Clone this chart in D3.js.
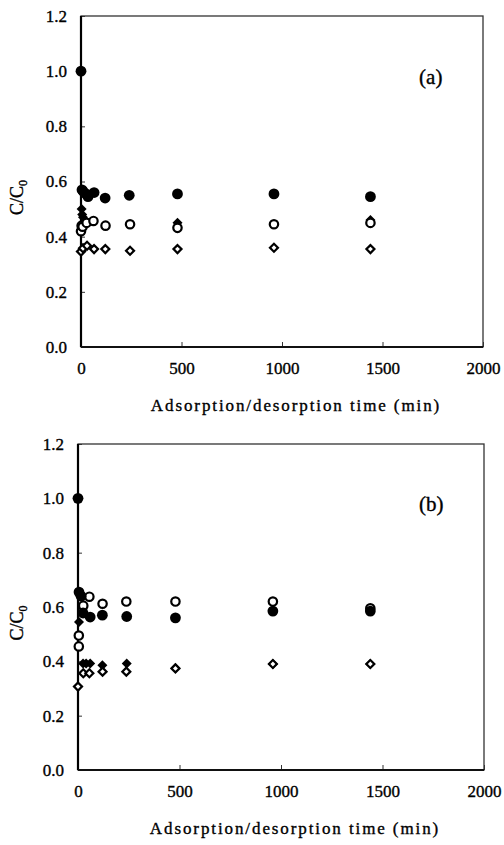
<!DOCTYPE html>
<html>
<head>
<meta charset="utf-8">
<script src="https://cdn.jsdelivr.net/npm/d3@7"></script>
<style>
  body { margin: 0; background: #fff; }
  svg text { font-family: "Liberation Serif", "Times New Roman", Times, serif; fill: #000; stroke: #000; stroke-width: 0.35px; }
</style>
</head>
<body>
<svg id="chart" width="504" height="845"></svg>
<script>
// x ticks / y ticks shared by both panels
const xTicks = [0, 500, 1000, 1500, 2000]
const yTicks = [0, 0.2, 0.4, 0.6, 0.8, 1.0, 1.2]

// panel (a)
const aFilledCircleT = [0, 5, 10, 25, 35, 65, 120, 240, 480, 960, 1440]
const aFilledCircleV = [1.0, 0.57, 0.565, 0.555, 0.545, 0.56, 0.54, 0.55, 0.555, 0.555, 0.545]
const aFilledDiamondT = [3, 6, 10, 480, 1440]
const aFilledDiamondV = [0.50, 0.48, 0.47, 0.45, 0.46]
const aOpenCircleT = [0, 3, 8, 28, 62, 122, 244, 480, 960, 1440]
const aOpenCircleV = [0.42, 0.44, 0.436, 0.45, 0.457, 0.44, 0.445, 0.432, 0.445, 0.45]
const aOpenDiamondT = [0, 10, 30, 65, 121, 244, 480, 960, 1440]
const aOpenDiamondV = [0.346, 0.358, 0.367, 0.355, 0.355, 0.349, 0.355, 0.36, 0.355]

// panel (b)
const bFilledCircleT = [0, 5, 15, 25, 60, 120, 240, 480, 960, 1440]
const bFilledCircleV = [1.0, 0.655, 0.64, 0.578, 0.563, 0.57, 0.565, 0.56, 0.585, 0.585]
const bFilledDiamondT = [5, 25, 40, 60, 120, 240, 480, 960, 1440]
const bFilledDiamondV = [0.545, 0.392, 0.392, 0.392, 0.386, 0.392, 0.375, 0.39, 0.39]
const bOpenCircleT = [4, 4, 26, 56, 121, 238, 480, 960, 1440]
const bOpenCircleV = [0.495, 0.455, 0.605, 0.638, 0.612, 0.62, 0.62, 0.62, 0.595]
const bOpenDiamondT = [0, 26, 56, 121, 238, 480, 960, 1440]
const bOpenDiamondV = [0.307, 0.356, 0.356, 0.362, 0.362, 0.374, 0.39, 0.39]

const zip = (t, v) => t.map((d, i) => ({t: d, v: v[i]}))

const panels = [
    {label: '(a)', left: 81, right: 483, top: 16, bottom: 347,
     fd: zip(aFilledDiamondT, aFilledDiamondV), oc: zip(aOpenCircleT, aOpenCircleV),
     od: zip(aOpenDiamondT, aOpenDiamondV), fc: zip(aFilledCircleT, aFilledCircleV)},
    {label: '(b)', left: 78, right: 484, top: 444, bottom: 770,
     fd: zip(bFilledDiamondT, bFilledDiamondV), oc: zip(bOpenCircleT, bOpenCircleV),
     od: zip(bOpenDiamondT, bOpenDiamondV), fc: zip(bFilledCircleT, bFilledCircleV)}
]

const serif = '"Liberation Serif", "Times New Roman", Times, serif'
const svg = d3.select('#chart')
const diamond = d3.symbol(d3.symbolSquare, 50)()

panels.forEach((p) => {
    const x = d3.scaleLinear().domain([0, 2000]).range([p.left, p.right])
    const y = d3.scaleLinear().domain([0, 1.2]).range([p.bottom, p.top])
    const g = svg.append('g').attr('font-family', serif)

    g.append('rect')
        .attr('x', p.left).attr('y', p.top)
        .attr('width', p.right - p.left).attr('height', p.bottom - p.top)
        .attr('fill', 'none').attr('stroke', '#333').attr('stroke-width', 1.3)

    const yAxis = g.append('g').attr('transform', `translate(${p.left},0)`)
        .call(d3.axisLeft(y).tickValues(yTicks).tickFormat(d3.format('.1f')).tickSize(-4).tickPadding(14))
    const xAxis = g.append('g').attr('transform', `translate(0,${p.bottom})`)
        .call(d3.axisBottom(x).tickValues(xTicks).tickFormat(d3.format('d')).tickSize(-5).tickPadding(15))
    ;[yAxis, xAxis].forEach((a) => {
        a.attr('font-family', serif)
        a.select('.domain').remove()
        a.selectAll('.tick line').attr('stroke', '#333')
        a.selectAll('.tick text').attr('font-size', 17)
    })
    // heavy left axis line
    g.append('line').attr('x1', p.left).attr('x2', p.left).attr('y1', p.top).attr('y2', p.bottom)
        .attr('stroke', '#000').attr('stroke-width', 2.2)
    g.append('line').attr('x1', p.left).attr('x2', p.right).attr('y1', p.bottom).attr('y2', p.bottom)
        .attr('stroke', '#111').attr('stroke-width', 1.8)

    g.append('text')
        .attr('x', (p.left + p.right) / 2 + 14).attr('y', p.bottom + 64)
        .attr('text-anchor', 'middle').attr('font-size', 17).attr('letter-spacing', 1.9)
        .text('Adsorption/desorption time (min)')

    const yTitle = g.append('text')
        .attr('transform', `translate(23,${(p.top + p.bottom) / 2 + 16}) rotate(-90)`)
        .attr('text-anchor', 'middle').attr('font-size', 18)
    yTitle.append('tspan').text('C/C')
    yTitle.append('tspan').attr('font-size', 12).attr('dy', 4).text('0')

    g.append('text')
        .attr('x', x(1740)).attr('y', y(0.98) + 7)
        .attr('text-anchor', 'middle').attr('font-size', 21)
        .text(p.label)

    g.selectAll('.fd').data(p.fd).enter().append('path')
        .attr('d', diamond)
        .attr('transform', (d) => `translate(${x(d.t)},${y(d.v)}) rotate(45)`)
        .attr('fill', '#000')

    g.selectAll('.oc').data(p.oc).enter().append('circle')
        .attr('cx', (d) => x(d.t)).attr('cy', (d) => y(d.v)).attr('r', 4.2)
        .attr('fill', '#fff').attr('stroke', '#000').attr('stroke-width', 2.2)

    g.selectAll('.od').data(p.od).enter().append('path')
        .attr('d', d3.symbol(d3.symbolSquare, 32)())
        .attr('transform', (d) => `translate(${x(d.t)},${y(d.v)}) rotate(45)`)
        .attr('fill', '#fff').attr('stroke', '#000').attr('stroke-width', 2.2)

    g.selectAll('.fc').data(p.fc).enter().append('circle')
        .attr('cx', (d) => x(d.t)).attr('cy', (d) => y(d.v)).attr('r', 5.4)
        .attr('fill', '#000')
})
</script>
</body>
</html>
